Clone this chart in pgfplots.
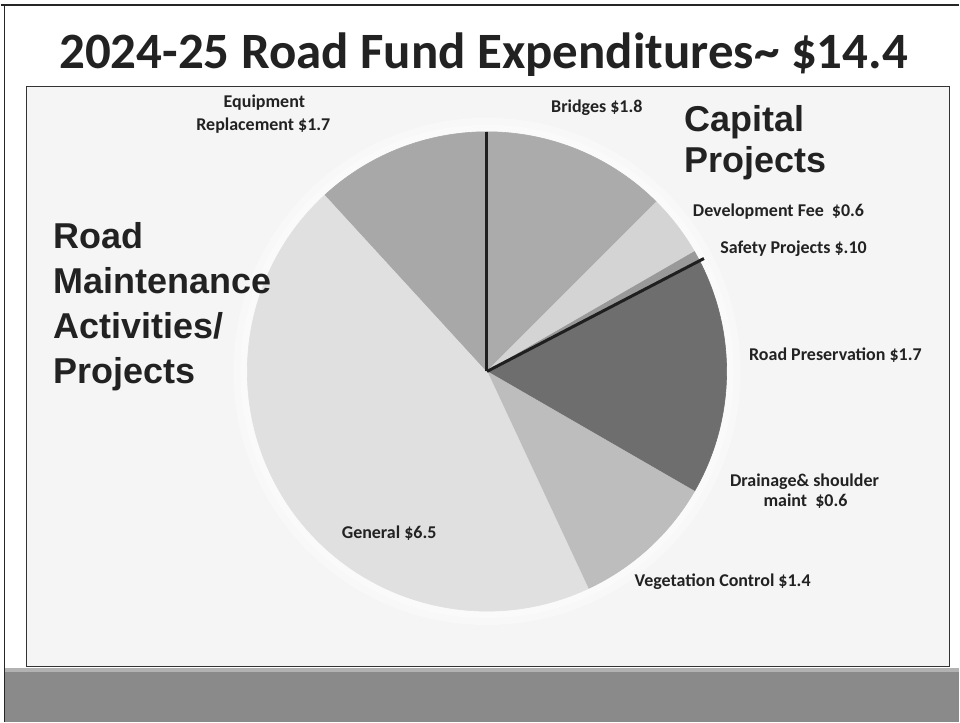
\documentclass[border=0pt]{standalone}
\usepackage{fontspec}
\usepackage{pgfplots}
\usepackage{pgfplotstable}
\pgfplotsset{compat=1.18}
\newfontfamily\carlito{Carlito}
\newfontfamily\arialf{Liberation Sans}
\definecolor{txt}{HTML}{222222}

\pgfplotstableread[col sep=comma]{
label,value,shade
Bridges,1.8,33
Development Fee,0.6,17
Safety Projects,0.1,40
Road Preservation,1.7,57
Drainage,0.6,57
Vegetation Control,1.4,26
General,6.5,12
Equipment Replacement,1.7,34
}\piedata

\begin{document}
\begin{tikzpicture}
\begin{axis}[x=1pt,y=1pt,xmin=0,xmax=960,ymin=0,ymax=723,
  hide axis, clip=false, scale only axis]
% slide frame
\fill[white] (axis cs:0,0) rectangle (axis cs:960,723);
\fill[black!46] (axis cs:4,0) rectangle (axis cs:960,54);
\fill[black!30] (axis cs:4,50) rectangle (axis cs:960,54);
\draw[line width=1.5pt, black!85] (axis cs:0,718) -- (axis cs:960,718);
\draw[line width=1.5pt, black!85] (axis cs:4,718) -- (axis cs:4,0);
\filldraw[fill=black!4, draw=black!80, line width=0.8pt] (axis cs:26,56) rectangle (axis cs:950,636);
% soft halo
\fill[white, opacity=0.3] (axis cs:487,351) circle[radius=254pt];
\fill[white, opacity=0.4] (axis cs:487,351) circle[radius=247pt];
% pie slices
\pgfplotstablegetrowsof{\piedata}
\pgfmathtruncatemacro\N{\pgfplotsretval-1}
\def\cum{0}
\pgfplotsforeachungrouped \i in {0,...,\N}{%
  \pgfplotstablegetelem{\i}{value}\of\piedata \let\v\pgfplotsretval
  \pgfplotstablegetelem{\i}{shade}\of\piedata \let\s\pgfplotsretval
  \pgfmathsetmacro\a{90-360*\cum/14.4}%
  \pgfmathsetmacro\b{90-360*(\cum+\v)/14.4}%
  \pgfmathsetmacro\cum{\cum+\v}%
  \edef\slice{\noexpand\filldraw[fill=black!\s, draw=black!\s, line width=0.6pt, line join=round] (axis cs:487,351) -- ++(\a:240pt) arc[start angle=\a, end angle=\b, radius=240pt] -- cycle;}%
  \slice
  \ifnum\i=2 \global\let\safeend\b \fi
}
\draw[line width=3pt, black!88] (axis cs:487,351) -- ++(90:240pt);
\edef\safeline{\noexpand\draw[line width=3pt, black!88] (axis cs:487,351) -- ++(\safeend:245pt);}
\safeline
% title
\node[anchor=base, text=txt, font=\carlito\bfseries\fontsize{51}{56}\selectfont] at (axis cs:483.5,654) {2024-25 Road Fund Expenditures\textasciitilde\ \$14.4};
% group labels
\begin{scope}[every node/.style={anchor=base west, text=txt, font=\arialf\bfseries\fontsize{36}{40}\selectfont, inner sep=0pt}]
\node at (axis cs:685,591) {Capital};
\node at (axis cs:685,550) {Projects};
\node at (axis cs:53,474) {Road};
\node at (axis cs:53,429) {Maintenance};
\node at (axis cs:53,384) {Activities/};
\node at (axis cs:53,339) {Projects};
\end{scope}
% slice labels
\begin{scope}[every node/.style={anchor=center, text=txt, font=\carlito\bfseries\fontsize{18}{21}\selectfont, inner sep=0pt}]
\node at (axis cs:264,620) {Equipment};
\node at (axis cs:263,597) {Replacement \$1.7};
\node at (axis cs:597,615) {Bridges \$1.8};
\node at (axis cs:779,511) {Development Fee\ \ \$0.6};
\node at (axis cs:794,474) {Safety Projects \$.10};
\node at (axis cs:836,367) {Road Preservation \$1.7};
\node at (axis cs:805,241) {Drainage\& shoulder};
\node at (axis cs:806,221) {maint\ \ \$0.6};
\node at (axis cs:723,140) {Vegetation Control \$1.4};
\node at (axis cs:389,189) {General \$6.5};
\end{scope}
\end{axis}
\end{tikzpicture}
\end{document}
